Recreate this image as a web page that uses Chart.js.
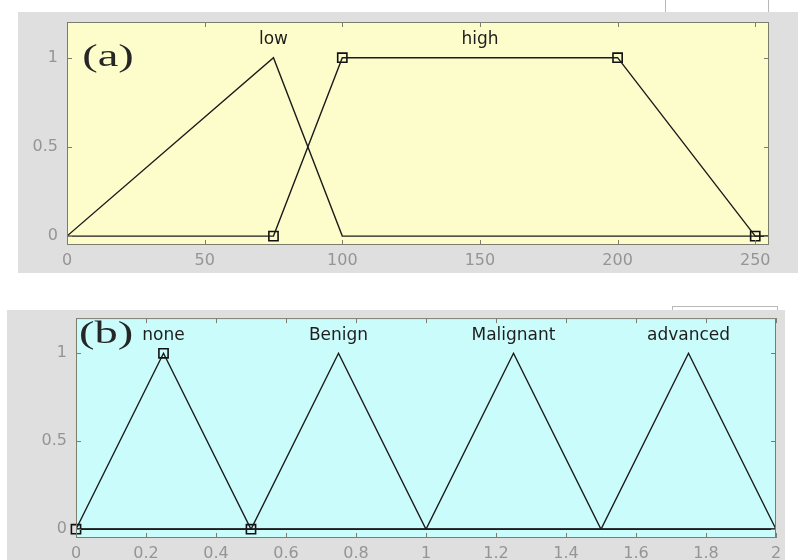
<!DOCTYPE html>
<html>
<head>
<meta charset="utf-8">
<script src="https://cdn.jsdelivr.net/npm/chart.js@4.4.1/dist/chart.umd.min.js"></script>
<style>
  body { margin: 0; background: #fff; width: 803px; height: 560px; position: relative; overflow: hidden; }
  .box { position: absolute; }
  .tab { position: absolute; border: 1px solid #b8b8b8; border-top: none; background: #fff; }
</style>
</head>
<body>
<div class="tab" style="left:665px; top:0px; width:102px; height:13px;"></div>
<div class="box" style="left:18px; top:12px; width:780px; height:261px;"><canvas id="chartA"></canvas></div>
<div class="tab" style="left:672px; top:306px; width:104px; height:4px; border-top:1px solid #b8b8b8; border-bottom:none;"></div>
<div class="box" style="left:7px; top:310px; width:778px; height:250px;"><canvas id="chartB"></canvas></div>
<script>
// panel (a): input membership functions
const lowX = [0, 75, 100, 255];
const lowY = [0, 1, 0, 0];
const highX = [0, 75, 100, 200, 250, 255];
const highY = [0, 0, 1, 1, 0, 0];
const markAX = [75, 100, 200, 250];
const markAY = [0, 1, 1, 0];
const termsA = ['low', 'high'];
const termPosA = [75, 150];
const xTicksA = [0, 50, 100, 150, 200, 250];

// panel (b): output membership functions
const noneX = [0, 0.25, 0.5, 2];
const noneY = [0, 1, 0, 0];
const benignX = [0, 0.5, 0.75, 1, 2];
const benignY = [0, 0, 1, 0, 0];
const malignantX = [0, 1, 1.25, 1.5, 2];
const malignantY = [0, 0, 1, 0, 0];
const advancedX = [0, 1.5, 1.75, 2];
const advancedY = [0, 0, 1, 0];
const markBX = [0, 0.25, 0.5];
const markBY = [0, 1, 0];
const termsB = ['none', 'Benign', 'Malignant', 'advanced'];
const termPosB = [0.25, 0.75, 1.25, 1.75];
const xTicksB = [0, 0.2, 0.4, 0.6, 0.8, 1, 1.2, 1.4, 1.6, 1.8, 2];

const yTicks = [0, 0.5, 1];

function pts(xs, ys) {
  return xs.map((x, i) => ({ x: x, y: ys[i] }));
}

function lineSet(xs, ys) {
  return {
    data: pts(xs, ys),
    showLine: true,
    borderColor: '#1b1b1b',
    borderWidth: 1.4,
    pointRadius: 0,
    tension: 0
  };
}

function markSet(xs, ys) {
  return {
    data: pts(xs, ys),
    showLine: false,
    pointStyle: 'rect',
    pointRadius: 6.5,
    borderColor: '#111',
    borderWidth: 1.6,
    backgroundColor: 'rgba(0,0,0,0)',
    clip: false
  };
}

// background, frame, inward ticks, term names and panel letter
const panelPlugin = {
  id: 'panel',
  beforeDraw(chart, args, opts) {
    const ctx = chart.ctx;
    const a = chart.chartArea;
    ctx.save();
    ctx.fillStyle = '#dfdfdf';
    ctx.fillRect(0, 0, chart.width, chart.height);
    ctx.fillStyle = opts.bg;
    ctx.fillRect(a.left, a.top, a.right - a.left, a.bottom - a.top);
    ctx.restore();
  },
  afterDraw(chart, args, opts) {
    const ctx = chart.ctx;
    const a = chart.chartArea;
    const xs = chart.scales.x;
    const ys = chart.scales.y;
    ctx.save();
    ctx.strokeStyle = '#7d7d6e';
    ctx.lineWidth = 1;
    ctx.strokeRect(a.left + 0.5, a.top + 0.5, a.right - a.left - 1, a.bottom - a.top - 1);
    ctx.beginPath();
    opts.xTicks.forEach(v => {
      const px = Math.round(xs.getPixelForValue(v)) + 0.5;
      ctx.moveTo(px, a.bottom); ctx.lineTo(px, a.bottom - 5);
      ctx.moveTo(px, a.top); ctx.lineTo(px, a.top + 5);
    });
    yTicks.forEach(v => {
      const py = Math.round(ys.getPixelForValue(v)) + 0.5;
      ctx.moveTo(a.left, py); ctx.lineTo(a.left + 5, py);
      ctx.moveTo(a.right, py); ctx.lineTo(a.right - 5, py);
    });
    ctx.stroke();

    ctx.fillStyle = '#1e1e1e';
    ctx.font = '17px "DejaVu Sans", sans-serif';
    ctx.textAlign = 'center';
    ctx.textBaseline = 'middle';
    opts.terms.forEach((t, i) => {
      ctx.fillText(t, xs.getPixelForValue(opts.termPos[i]), ys.getPixelForValue(1.1));
    });

    // panel letter, widened like the source image
    ctx.fillStyle = '#262626';
    ctx.font = '31px "Liberation Serif", "Times New Roman", serif';
    ctx.textAlign = 'center';
    ctx.translate(opts.letterX, opts.letterY);
    ctx.scale(1.5, 1);
    ctx.fillText(opts.letter, 0, 0);
    ctx.restore();
  }
};

const tickFont = { family: '"DejaVu Sans", sans-serif', size: 16 };

function makeChart(id, sets, xMax, xTicks, yAxisWidth, padRight, padTop, xAxisHeight, panel) {
  return new Chart(document.getElementById(id), {
    type: 'scatter',
    data: { datasets: sets },
    options: {
      responsive: true,
      maintainAspectRatio: false,
      animation: false,
      layout: { padding: { top: padTop, right: padRight, left: 0, bottom: 0 } },
      plugins: {
        legend: { display: false },
        tooltip: { enabled: false },
        panel: panel
      },
      scales: {
        x: {
          type: 'linear',
          min: 0,
          max: xMax,
          grid: { display: false, drawTicks: false },
          border: { display: false },
          afterBuildTicks: s => { s.ticks = xTicks.map(v => ({ value: v })); },
          afterFit: s => { s.height = xAxisHeight; s.paddingLeft = 0; s.paddingRight = 0; },
          ticks: {
            padding: 6,
            color: '#959595',
            font: tickFont,
            maxRotation: 0,
            autoSkip: false,
            callback: v => String(v)
          }
        },
        y: {
          type: 'linear',
          min: -0.05,
          max: 1.2,
          grid: { display: false, drawTicks: false },
          border: { display: false },
          afterBuildTicks: s => { s.ticks = yTicks.map(v => ({ value: v })); },
          afterFit: s => { s.width = yAxisWidth; s.paddingTop = 0; s.paddingBottom = 0; },
          ticks: {
            padding: 9,
            color: '#959595',
            font: tickFont,
            callback: v => String(v)
          }
        }
      }
    },
    plugins: [panelPlugin]
  });
}

makeChart('chartA',
  [lineSet(lowX, lowY), lineSet(highX, highY), markSet(markAX, markAY)],
  255, xTicksA, 49, 29, 10, 28,
  { bg: '#fdfdcc', xTicks: xTicksA, terms: termsA, termPos: termPosA, letter: '(a)', letterX: 90, letterY: 46 });

makeChart('chartB',
  [lineSet(noneX, noneY), lineSet(benignX, benignY), lineSet(malignantX, malignantY),
   lineSet(advancedX, advancedY), markSet(markBX, markBY)],
  2, xTicksB, 69, 9, 5, 22,
  { bg: '#cbfcfc', xTicks: xTicksB, terms: termsB, termPos: termPosB, letter: '(b)', letterX: 99, letterY: 25 });
</script>
</body>
</html>
